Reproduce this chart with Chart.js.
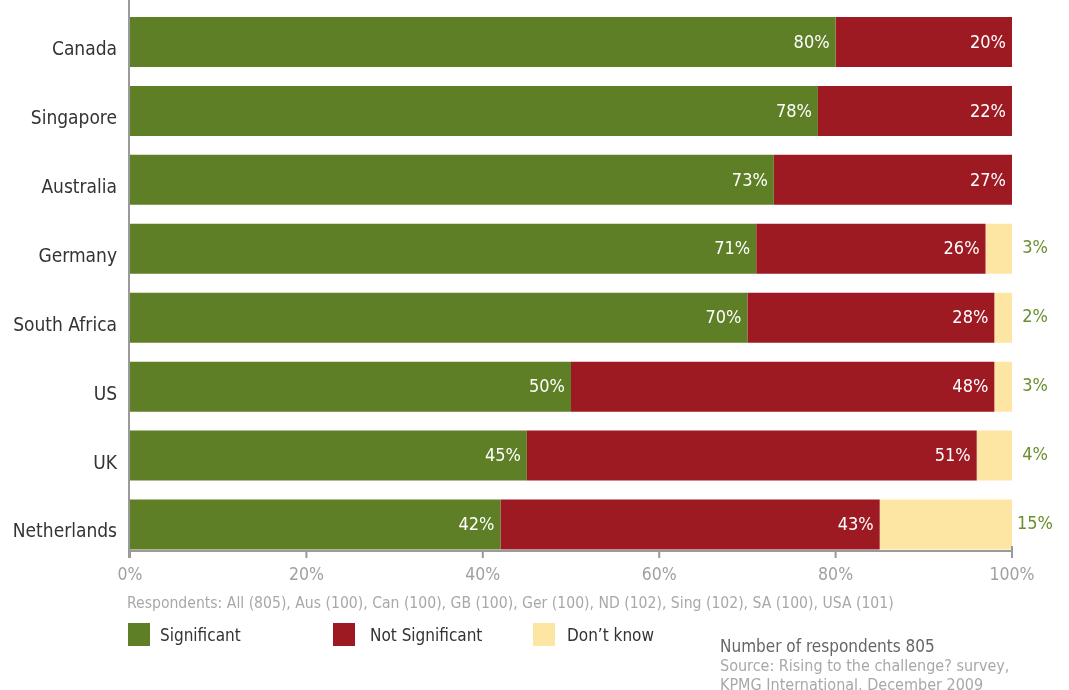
<!DOCTYPE html>
<html>
<head>
<meta charset="utf-8">
<script src="https://cdn.jsdelivr.net/npm/chart.js@4.4.1/dist/chart.umd.min.js"></script>
<style>
  html, body { margin: 0; padding: 0; background: #fff; }
  #wrap { position: relative; width: 1069px; height: 690px; overflow: hidden;
          font-family: "DejaVu Sans Condensed", "Liberation Sans Narrow", "Roboto", sans-serif; }
  #c { position: absolute; left: 0; top: 0; }
  .resp { position: absolute; left: 127px; top: 594px; font-size: 15.6px; color: #a8a8a8; white-space: nowrap; }
  .leg { position: absolute; top: 623px; height: 23px; display: flex; align-items: center; font-size: 17px; color: #333; white-space: nowrap; }
  .sw { width: 22px; height: 23px; }
  .note { position: absolute; left: 720px; top: 637px; font-size: 16px; line-height: 19px; color: #a8a8a8; white-space: nowrap; }
  .note .first { color: #666; font-size: 17px; }
</style>
</head>
<body>
<div id="wrap">
  <canvas id="c" width="1069" height="690"></canvas>
  <div class="resp">Respondents: All (805), Aus (100), Can (100), GB (100), Ger (100), ND (102), Sing (102), SA (100), USA (101)</div>
  <div class="leg" style="left:128px"><div class="sw" style="background:#5f7f27;margin-right:10px"></div>Significant</div>
  <div class="leg" style="left:333px"><div class="sw" style="background:#9e1a23;margin-right:15px"></div>Not Significant</div>
  <div class="leg" style="left:533px"><div class="sw" style="background:#fde6a4;margin-right:12px"></div>Don’t know</div>
  <div class="note"><div class="first">Number of respondents 805</div><div>Source: Rising to the challenge? survey,</div><div>KPMG International, December 2009</div></div>
</div>
<script>
const categories = ["Canada", "Singapore", "Australia", "Germany", "South Africa", "US", "UK", "Netherlands"];
const significant = [80, 78, 73, 71, 70, 50, 45, 42];
const notSignificant = [20, 22, 27, 26, 28, 48, 51, 43];
const dontKnow = [0, 0, 0, 3, 2, 3, 4, 15];
const seriesNames = ["Significant", "Not Significant", "Don’t know"];
const xTicks = [0, 20, 40, 60, 80, 100];

const FONT = '"DejaVu Sans Condensed", "Liberation Sans Narrow", "Roboto", sans-serif';
const GREEN = '#5f7f27', RED = '#9e1a23', YELLOW = '#fde6a4';

const labelPlugin = {
  id: 'labels',
  afterDatasetsDraw(chart) {
    const ctx = chart.ctx;
    const area = chart.chartArea;
    ctx.save();
    ctx.font = '18px ' + FONT;
    ctx.textBaseline = 'middle';
    [0, 1].forEach(di => {
      const meta = chart.getDatasetMeta(di);
      meta.data.forEach((el, i) => {
        const v = chart.data.datasets[di].data[i];
        if (!v) return;
        ctx.fillStyle = '#ffffff';
        ctx.textAlign = 'right';
        ctx.fillText(v + '%', Math.min(el.x, area.right) - 6, el.y + 1);
      });
    });
    const meta2 = chart.getDatasetMeta(2);
    meta2.data.forEach((el, i) => {
      const v = chart.data.datasets[2].data[i];
      if (!v) return;
      ctx.fillStyle = '#6b8f2e';
      ctx.textAlign = 'center';
      ctx.fillText(v + '%', area.right + 23, el.y);
    });
    ctx.restore();
  }
};

const axisPlugin = {
  id: 'axes',
  afterDraw(chart) {
    const ctx = chart.ctx;
    const xs = chart.scales.x;
    const meta = chart.getDatasetMeta(0);
    const last = meta.data[meta.data.length - 1];
    const axisY = Math.round(last.y + last.height / 2) + 1;
    ctx.save();
    ctx.strokeStyle = '#9a9a9a';
    ctx.lineWidth = 2;
    ctx.beginPath();
    ctx.moveTo(xs.left - 1, 0);
    ctx.lineTo(xs.left - 1, axisY + 7);
    ctx.stroke();
    ctx.beginPath();
    ctx.moveTo(xs.left - 1, axisY);
    ctx.lineTo(xs.right, axisY);
    ctx.stroke();
    xTicks.forEach(t => {
      const px = xs.getPixelForValue(t);
      ctx.beginPath();
      ctx.moveTo(px, t === 100 ? axisY - 5 : axisY);
      ctx.lineTo(px, axisY + 7);
      ctx.stroke();
    });
    ctx.restore();
  }
};

new Chart(document.getElementById('c'), {
  type: 'bar',
  data: {
    labels: categories,
    datasets: [
      { label: seriesNames[0], data: significant, backgroundColor: GREEN },
      { label: seriesNames[1], data: notSignificant, backgroundColor: RED },
      { label: seriesNames[2], data: dontKnow, backgroundColor: YELLOW }
    ]
  },
  options: {
    indexAxis: 'y',
    responsive: false,
    animation: false,
    events: [],
    datasets: { bar: { barPercentage: 0.725, categoryPercentage: 1.0, borderWidth: 0 } },
    layout: { padding: { left: 0, right: 57, top: 7.5, bottom: 101 } },
    plugins: { legend: { display: false }, tooltip: { enabled: false } },
    scales: {
      x: {
        stacked: true,
        min: 0, max: 100,
        afterBuildTicks(scale) { scale.ticks = xTicks.map(v => ({ value: v })); },
        afterFit(scale) { scale.height = 30; scale.paddingLeft = 0; scale.paddingRight = 0; },
        grid: { display: false, drawTicks: false },
        border: { display: false },
        ticks: { padding: 6, color: '#a0a0a0', font: { family: FONT, size: 17.5 }, callback: v => v + '%' }
      },
      y: {
        stacked: true,
        afterFit(scale) { scale.width = 130; scale.paddingTop = 0; scale.paddingBottom = 0; },
        grid: { display: false, drawTicks: false },
        border: { display: false },
        ticks: { padding: 13, labelOffset: 8, color: '#333333', font: { family: FONT, size: 19 } }
      }
    }
  },
  plugins: [labelPlugin, axisPlugin]
});
</script>
</body>
</html>
